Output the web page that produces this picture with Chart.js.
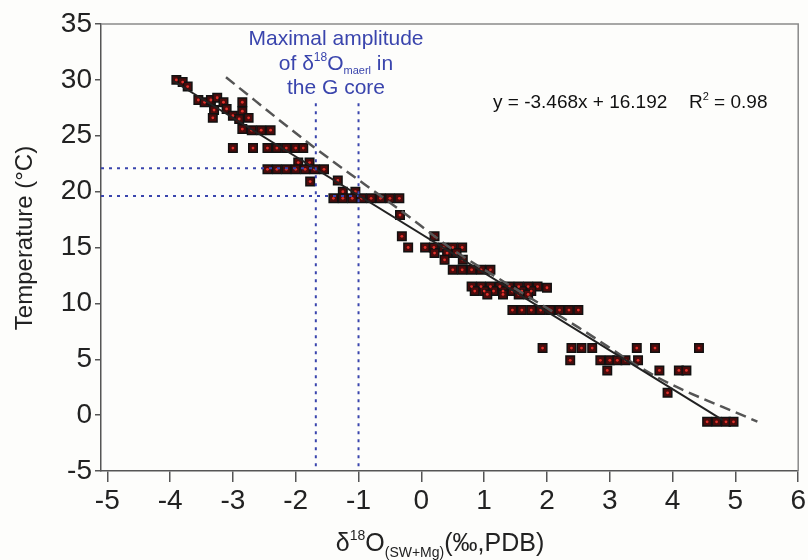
<!DOCTYPE html>
<html>
<head>
<meta charset="utf-8">
<script src="https://cdn.jsdelivr.net/npm/chart.js@4.4.1/dist/chart.umd.min.js"></script>
<style>
  html, body { margin: 0; padding: 0; background: #fdfdfb; }
  canvas { display: block; }
</style>
</head>
<body>
<canvas id="chart" width="808" height="560"></canvas>
<script>
// samples: d18O (x) vs temperature (y)
const d18O = [
  -3.9, -3.8, -3.72,
  -3.55, -3.45, -3.35, -3.25, -3.15, -2.85,
  -3.3, -3.1, -2.85,
  -3.32, -3.0, -2.9, -2.75,
  -2.85, -2.7, -2.55, -2.4,
  -3.0, -2.68, -2.45, -2.3, -2.15, -2.0, -1.88,
  -1.96, -1.78,
  -2.45, -2.3, -2.15, -2.0, -1.85, -1.7, -1.55,
  -1.77, -1.33,
  -1.25, -1.05,
  -1.4, -1.25, -1.1, -0.95, -0.8, -0.65, -0.5, -0.35,
  -0.34, -0.31, 0.21,
  -0.21, 0.06, 0.2, 0.35, 0.5, 0.65,
  0.21, 0.41, 0.56,
  0.37, 0.66,
  0.5, 0.65, 0.8, 0.95, 1.1,
  0.8, 0.95, 1.1, 1.25, 1.4, 1.55, 1.7, 1.85, 2.0,
  0.85, 1.0, 1.15, 1.3, 1.45, 1.6, 1.75,
  1.05, 1.3, 1.55, 1.7,
  1.45, 1.6, 1.75, 1.9, 2.05, 2.2, 2.35, 2.5,
  1.93, 2.39, 2.55, 2.72, 3.43, 3.72, 4.42,
  2.37, 2.85, 3.0, 3.12, 3.25, 3.45,
  2.96, 3.79, 4.1, 4.22,
  3.92,
  4.55, 4.7, 4.85, 4.97
];
const temperature = [
  30.0, 29.8, 29.4,
  28.2, 28.0, 28.2, 28.4, 28.0, 28.0,
  27.3, 27.4, 27.2,
  26.6, 26.8, 26.5, 26.6,
  25.6, 25.5, 25.5, 25.5,
  23.9, 23.9, 23.9, 23.9, 23.9, 23.9, 23.9,
  22.6, 22.6,
  22.0, 22.0, 22.0, 22.0, 22.0, 22.0, 22.0,
  20.9, 21.0,
  20.0, 20.0,
  19.4, 19.4, 19.4, 19.4, 19.4, 19.4, 19.4, 19.4,
  17.9, 16.0, 16.0,
  15.0, 15.0, 15.0, 15.0, 15.0, 15.0,
  14.5, 14.5, 14.5,
  13.9, 13.9,
  13.0, 13.0, 13.0, 13.0, 13.0,
  11.5, 11.5, 11.5, 11.5, 11.5, 11.5, 11.5, 11.5, 11.4,
  11.1, 11.1, 11.1, 11.1, 11.1, 11.1, 11.1,
  10.8, 10.8, 10.8, 10.8,
  9.4, 9.4, 9.4, 9.4, 9.4, 9.4, 9.4, 9.4,
  6.0, 6.0, 6.0, 6.0, 6.0, 6.0, 6.0,
  4.9, 4.9, 4.9, 4.9, 4.9, 4.9,
  4.0, 4.0, 4.0, 4.0,
  2.0,
  -0.6, -0.6, -0.6, -0.6
];

// regression line ends (y = -3.468x + 16.192)
const fitX = [-3.95, 4.8];
const fitY = [29.9, -0.45];

// dashed curve, read at a few places
const dashX = [-3.11, -1.72, -0.34, 0.51, 1.5, 2.5, 3.74, 5.35];
const dashY = [30.23, 24.02, 18.36, 14.78, 11.3, 7.85, 3.44, -0.59];

// blue dotted guides: range of d18O maerl and matching temperatures
const guideX = [-1.68, -1.0];
const guideY = [22.1, 19.6];
const guideTop = 27.9;

const xTicks = [-5, -4, -3, -2, -1, 0, 1, 2, 3, 4, 5, 6];
const yTicks = [-5, 0, 5, 10, 15, 20, 25, 30, 35];
const xMin = -5.1, xMax = 6, yMin = -5, yMax = 35;

const FONT = '"Liberation Sans", Arial, sans-serif';
const BLUE = '#3a45ad';

const pts = d18O.map((x, i) => ({ x: x, y: temperature[i] }));
const toXY = (xs, ys) => xs.map((x, i) => ({ x: x, y: ys[i] }));

// text with super/subscripts, drawn piece by piece
function drawRuns(ctx, runs, x, y, align) {
  let total = 0;
  runs.forEach(r => {
    ctx.font = r.s + 'px ' + FONT;
    r.w = ctx.measureText(r.t).width;
    total += r.w;
  });
  let cx = align === 'center' ? x - total / 2 : x;
  ctx.textAlign = 'left';
  ctx.textBaseline = 'alphabetic';
  runs.forEach(r => {
    ctx.font = r.s + 'px ' + FONT;
    ctx.fillText(r.t, cx, y + (r.dy || 0));
    cx += r.w;
  });
}

const decorations = {
  id: 'decorations',
  afterDraw(chart) {
    const { ctx, chartArea: a } = chart;
    ctx.save();

    // top and right frame
    ctx.strokeStyle = '#8a8a8a';
    ctx.lineWidth = 1.5;
    ctx.beginPath();
    ctx.moveTo(a.left, a.top);
    ctx.lineTo(a.right, a.top);
    ctx.lineTo(a.right, a.bottom);
    ctx.stroke();

    // note in blue
    ctx.fillStyle = BLUE;
    drawRuns(ctx, [{ t: 'Maximal amplitude', s: 21 }], 336, 45, 'center');
    drawRuns(ctx, [
      { t: 'of δ', s: 21 }, { t: '18', s: 12, dy: -9 }, { t: 'O', s: 21 },
      { t: 'maerl', s: 11, dy: 4 }, { t: ' in', s: 21 }
    ], 336, 70, 'center');
    drawRuns(ctx, [{ t: 'the G core', s: 21 }], 336, 94, 'center');

    // equation
    ctx.fillStyle = '#111';
    drawRuns(ctx, [{ t: 'y = -3.468x + 16.192', s: 19 }], 493, 108, 'left');
    drawRuns(ctx, [{ t: 'R', s: 19 }, { t: '2', s: 11, dy: -8 }, { t: ' = 0.98', s: 19 }], 689, 108, 'left');

    // axis titles
    ctx.fillStyle = '#222';
    drawRuns(ctx, [
      { t: 'δ', s: 25 }, { t: '18', s: 14, dy: -11 }, { t: 'O', s: 25 },
      { t: '(SW+Mg)', s: 14, dy: 6 }, { t: '(‰,PDB)', s: 25 }
    ], 440, 551, 'center');

    ctx.translate(32, 238);
    ctx.rotate(-Math.PI / 2);
    ctx.textAlign = 'center';
    ctx.font = '24px ' + FONT;
    ctx.fillText('Temperature (°C)', 0, 0);
    ctx.restore();
  }
};

const guideStyle = {
  showLine: true, borderColor: BLUE, borderWidth: 2, borderDash: [3, 5],
  pointRadius: 0, fill: false, order: 0
};

new Chart(document.getElementById('chart'), {
  type: 'scatter',
  data: {
    datasets: [
      {
        label: 'samples',
        data: pts,
        pointStyle: 'rect',
        pointRadius: 6,
        backgroundColor: '#4a0c0c',
        borderColor: '#111',
        borderWidth: 1.5,
        order: 5
      },
      {
        label: 'samples centre',
        data: pts,
        pointStyle: 'circle',
        pointRadius: 1.4,
        backgroundColor: '#e0302a',
        borderWidth: 0,
        order: 4
      },
      {
        label: 'fit',
        data: toXY(fitX, fitY),
        showLine: true,
        borderColor: '#222',
        borderWidth: 2,
        pointRadius: 0,
        order: 2
      },
      {
        label: 'dashed',
        data: toXY(dashX, dashY),
        showLine: true,
        borderColor: '#555',
        borderWidth: 2.5,
        borderDash: [11, 6],
        cubicInterpolationMode: 'monotone',
        pointRadius: 0,
        order: 3
      },
      Object.assign({ data: [{ x: guideX[0], y: guideTop }, { x: guideX[0], y: yMin }] }, guideStyle),
      Object.assign({ data: [{ x: guideX[1], y: guideTop }, { x: guideX[1], y: yMin }] }, guideStyle),
      Object.assign({ data: [{ x: xMin, y: guideY[0] }, { x: guideX[0], y: guideY[0] }] }, guideStyle),
      Object.assign({ data: [{ x: xMin, y: guideY[1] }, { x: guideX[1], y: guideY[1] }] }, guideStyle)
    ]
  },
  options: {
    responsive: false,
    animation: false,
    layout: { padding: { top: 24, right: 9, left: 0, bottom: 0 } },
    plugins: {
      legend: { display: false },
      tooltip: { enabled: false }
    },
    scales: {
      x: {
        type: 'linear',
        min: xMin,
        max: xMax,
        afterBuildTicks: scale => { scale.ticks = xTicks.map(v => ({ value: v })); },
        afterFit: scale => { scale.height = 89; },
        grid: { drawOnChartArea: false, drawTicks: true, tickLength: 11, color: '#555', lineWidth: 1.5 },
        border: { color: '#555', width: 1.5 },
        ticks: { font: { size: 28, family: FONT }, color: '#222', padding: 2, maxRotation: 0, autoSkip: false }
      },
      y: {
        min: yMin,
        max: yMax,
        afterBuildTicks: scale => { scale.ticks = yTicks.map(v => ({ value: v })); },
        afterFit: scale => { scale.width = 101; },
        grid: { drawOnChartArea: false, drawTicks: true, tickLength: 6, color: '#555', lineWidth: 1.5 },
        border: { color: '#555', width: 1.5 },
        ticks: { font: { size: 28, family: FONT }, color: '#222', padding: 3 }
      }
    }
  },
  plugins: [decorations]
});
</script>
</body>
</html>
